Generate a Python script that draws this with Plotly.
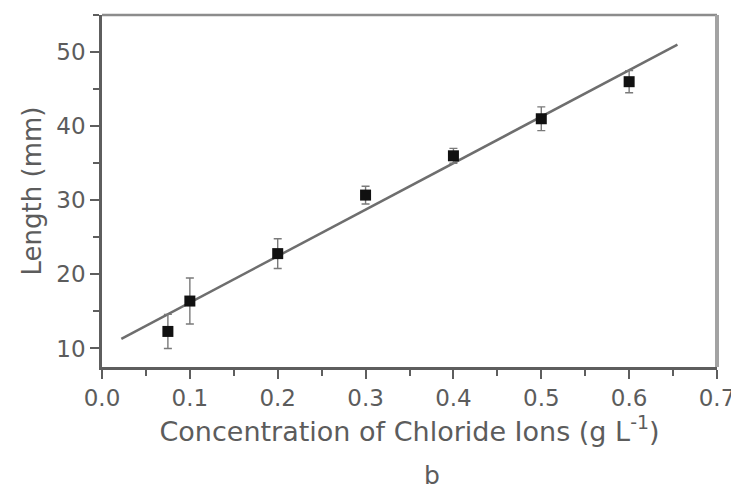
import plotly.graph_objects as go

# Measured lengths vs. chloride concentration
conc = [0.075, 0.1, 0.2, 0.3, 0.4, 0.5, 0.6]
length_mm = [12.3, 16.4, 22.8, 30.7, 36.0, 41.0, 46.0]
length_err = [2.3, 3.1, 2.0, 1.2, 1.0, 1.6, 1.5]

# Linear fit line endpoints
fit_x = [0.022, 0.655]
fit_y = [11.3, 51.0]

x_ticks = [0.0, 0.1, 0.2, 0.3, 0.4, 0.5, 0.6, 0.7]
y_ticks = [10, 20, 30, 40, 50]

FONT = "DejaVu Sans, Verdana, sans-serif"
TXT = "#5c5c5c"
AX = "#5e5e5e"

fig = go.Figure()

fig.add_trace(go.Scatter(
    x=fit_x, y=fit_y, mode="lines",
    line=dict(color="#6e6e6e", width=2.5),
    showlegend=False, hoverinfo="skip",
))

fig.add_trace(go.Scatter(
    x=conc, y=length_mm, mode="markers",
    marker=dict(symbol="square", size=11, color="#111111"),
    error_y=dict(type="data", array=length_err, visible=True,
                 color="#7a7a7a", thickness=1.4, width=4),
    showlegend=False,
))

# Frame: top and right borders
fig.add_shape(type="line", xref="paper", yref="paper", x0=0, x1=1, y0=1, y1=1,
              line=dict(color="#8c8c8c", width=2.5))
fig.add_shape(type="line", xref="paper", yref="paper", x0=1, x1=1, y0=0, y1=1,
              line=dict(color="#a3a3a3", width=4))

fig.add_annotation(
    text="b", xref="paper", yref="paper", x=0.537, y=-0.308,
    xanchor="center", yanchor="middle", showarrow=False,
    font=dict(family=FONT, size=25, color=TXT),
)

fig.update_xaxes(
    range=[0, 0.7], tickvals=x_ticks,
    ticktext=[f"{v:.1f}" for v in x_ticks],
    showgrid=False, zeroline=False, automargin=False,
    ticklabeloverflow="allow",
    showline=True, linecolor=AX, linewidth=2.5,
    ticks="outside", ticklen=9, tickwidth=2, tickcolor=AX,
    minor=dict(ticks="outside", dtick=0.05, ticklen=6, tickwidth=2, tickcolor=AX),
    tickfont=dict(family=FONT, size=23, color=TXT),
    title=dict(text="Concentration of Chloride Ions (g L<sup>-1</sup>)",
               font=dict(family=FONT, size=27, color=TXT), standoff=3),
)

fig.update_yaxes(
    range=[7.5, 55], tickvals=y_ticks,
    showgrid=False, zeroline=False, automargin=False,
    showline=True, linecolor=AX, linewidth=2.5,
    ticks="outside", ticklen=9, tickwidth=2, tickcolor=AX,
    minor=dict(ticks="outside", dtick=5, ticklen=6, tickwidth=2, tickcolor=AX),
    tickfont=dict(family=FONT, size=23, color=TXT),
    title=dict(text="Length (mm)",
               font=dict(family=FONT, size=26, color=TXT), standoff=8),
)

fig.update_layout(
    width=731, height=491,
    margin=dict(l=102, r=14, t=15, b=124),
    paper_bgcolor="white", plot_bgcolor="white",
)

fig.write_html("out.html")
